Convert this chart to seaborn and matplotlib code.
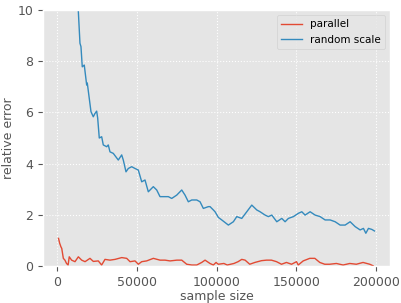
import numpy as np
import matplotlib
matplotlib.use('Agg')
import matplotlib.pyplot as plt
import seaborn as sns

# values
parallel_x = [1000, 1700, 2500, 3000, 4000, 5000, 6000, 7000, 7700, 9200, 11300, 13400,
              15500, 17600, 20700, 22800, 25900, 28000, 30100, 33200, 36400, 40600, 43700,
              45800, 48900, 51000, 53100, 56200, 60400, 64600, 67700, 70900, 75100, 78200,
              81300, 84500, 87600, 90700, 92800, 95900, 98000, 99700, 101100, 104600,
              106700, 110900, 113500, 115800, 117900, 120800, 124000, 128200, 131300,
              134400, 137600, 140700, 143800, 147000, 150100, 151200, 154300, 158400,
              161600, 164700, 167800, 170900, 175100, 179300, 183500, 187600, 191800,
              196000, 198100]
parallel_y = [1.08, 0.89, 0.75, 0.69, 0.30, 0.23, 0.10, 0.04, 0.36, 0.23, 0.17, 0.36,
              0.23, 0.17, 0.30, 0.18, 0.20, 0.04, 0.26, 0.23, 0.26, 0.33, 0.30,
              0.17, 0.20, 0.07, 0.17, 0.20, 0.30, 0.23, 0.23, 0.20, 0.23, 0.23,
              0.07, 0.04, 0.04, 0.14, 0.23, 0.10, 0.04, 0.14, 0.07, 0.10,
              0.04, 0.10, 0.17, 0.26, 0.23, 0.07, 0.14, 0.21, 0.23,
              0.23, 0.17, 0.07, 0.14, 0.07, 0.17, 0.04, 0.20, 0.30,
              0.30, 0.14, 0.07, 0.07, 0.10, 0.04, 0.10, 0.07, 0.14,
              0.07, 0.01]

random_x = [1000, 5000, 10000, 13355, 14421, 15048, 15863, 17117, 18622, 19000, 21318,
            22760, 23826, 24892, 25519, 26522, 28027, 29030, 31162, 32165, 33231, 35300,
            38435, 40566, 41570, 43263, 44705, 46837, 48906, 50975, 53107, 55176, 57245,
            60380, 62512, 64581, 67716, 69785, 71917, 75052, 78187, 80256, 82325, 84457,
            87592, 89661, 91730, 94865, 95931, 98000, 99066, 101135, 103267, 107405,
            110540, 112672, 115807, 118942, 122077, 125212, 127281, 130416, 132485,
            134617, 137752, 140887, 142956, 145025, 148160, 151295, 153427, 155496,
            158631, 161766, 164901, 168036, 171171, 174306, 177441, 180576, 183711,
            186846, 189981, 192050, 193555, 195184, 197316, 198946]
random_y = [40.0, 20.0, 12.5, 10.0, 8.7, 8.57, 7.78, 7.85, 7.07, 7.15, 6.03,
            5.83, 5.96, 6.05, 5.78, 5.0, 5.05, 4.73, 4.66, 4.73, 4.46, 4.4,
            4.14, 4.34, 4.14, 3.68, 3.81, 3.88, 3.81, 3.75, 3.29, 3.36, 2.90,
            3.10, 2.97, 2.71, 2.71, 2.71, 2.64, 2.77, 2.97, 2.77, 2.51, 2.58,
            2.58, 2.51, 2.25, 2.32, 2.32, 2.19, 2.12, 1.90, 1.80, 1.60,
            1.73, 1.93, 1.86, 2.12, 2.38, 2.19, 2.12, 1.99, 1.93,
            1.99, 1.73, 1.86, 1.73, 1.86, 1.93, 2.06, 2.12, 1.99,
            2.12, 1.99, 1.93, 1.80, 1.80, 1.73, 1.60, 1.60, 1.73,
            1.54, 1.41, 1.47, 1.28, 1.47, 1.43, 1.37]

plt.style.use('ggplot')
plt.rcParams['font.family'] = ['DejaVu Sans']

fig = plt.figure(figsize=(4.01, 3.03), dpi=100)
ax = fig.add_axes([0.107, 0.122, 0.866, 0.845])

sns.lineplot(x=parallel_x, y=parallel_y, ax=ax, color='#E24A33', lw=1, label='parallel')
sns.lineplot(x=random_x, y=random_y, ax=ax, color='#348ABD', lw=1, label='random scale')

ax.set_ylim(0, 10)
ax.set_xlim(-8800, 208800)
ax.set_xticks([0, 50000, 100000, 150000, 200000])
ax.set_yticks([0, 2, 4, 6, 8, 10])
ax.grid(True, color='white', linestyle=':', linewidth=0.8)
ax.tick_params(labelsize=9, colors='#555555')
ax.set_xlabel('sample size', fontsize=9, color='#555555', labelpad=1)
ax.set_ylabel('relative error', fontsize=9, color='#555555', labelpad=2)
ax.legend(loc='upper right', fontsize=7.5)

fig.savefig('out.png', dpi=100)
